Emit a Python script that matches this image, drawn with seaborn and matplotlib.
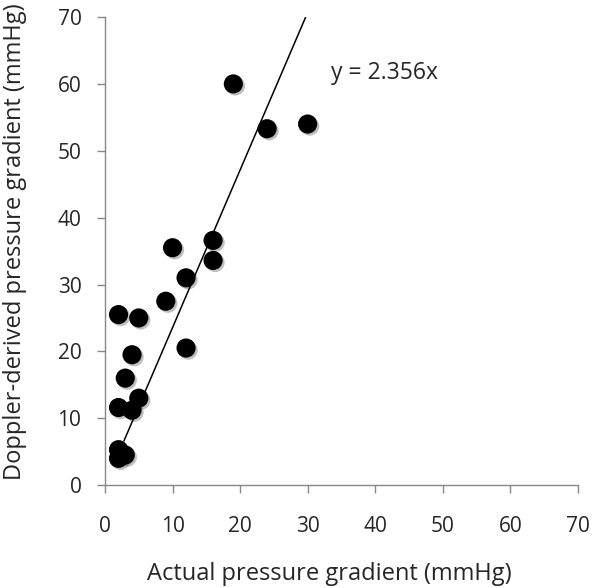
import numpy as np
import pandas as pd
import seaborn as sns
import matplotlib.pyplot as plt
import matplotlib.patheffects as pe

sns.set_style("white")
plt.rcParams['font.family'] = ['Open Sans', 'DejaVu Sans']

# values
actual = [2, 19, 24, 30, 10, 16, 16, 12, 9, 5, 12, 4, 3, 2, 4, 5, 2, 3, 2]
doppler = [25.5, 60, 53.3, 54, 35.5, 36.6, 33.6, 31, 27.5, 25, 20.5, 19.5, 16, 11.6, 11.2, 13, 5.3, 4.5, 4]
slope = 2.356
fit_x = [2.8, 29.7]

df = pd.DataFrame({'actual': actual, 'doppler': doppler})

fig, ax = plt.subplots(figsize=(6, 5.88), dpi=100)
fig.subplots_adjust(left=0.175, right=0.963, bottom=0.175, top=0.971)

sns.scatterplot(data=df, x='actual', y='doppler', s=190, color='black',
                edgecolor='none', ax=ax, zorder=3,
                path_effects=[pe.SimplePatchShadow(offset=(1.5, -1.5), shadow_rgbFace='black', alpha=0.25),
                              pe.Normal()])
ax.plot(fit_x, [slope * v for v in fit_x], color='black', lw=1.1, zorder=2)
ax.text(33.5, 61.7, 'y = 2.356x', fontsize=16.5, va='center')

ax.set_xlim(0, 70)
ax.set_ylim(0, 70)
ax.set_xticks(range(0, 71, 10))
ax.set_yticks(range(0, 71, 10))
ax.tick_params(axis='both', labelsize=15, length=6, width=1, color='#888888',
               direction='out', bottom=True, left=True)
ax.tick_params(axis='y', pad=11)
ax.tick_params(axis='x', pad=16)
for s in ['top', 'right']:
    ax.spines[s].set_visible(False)
for s in ['left', 'bottom']:
    ax.spines[s].set_color('#888888')
    ax.spines[s].set_linewidth(1)

ax.set_xlabel('Actual pressure gradient (mmHg)', fontsize=17)
ax.set_ylabel('Doppler-derived pressure gradient (mmHg)', fontsize=17)
ax.xaxis.set_label_coords(0.474, -0.165)
ax.yaxis.set_label_coords(-0.165, 0.52)

fig.savefig('out.png', dpi=100)
